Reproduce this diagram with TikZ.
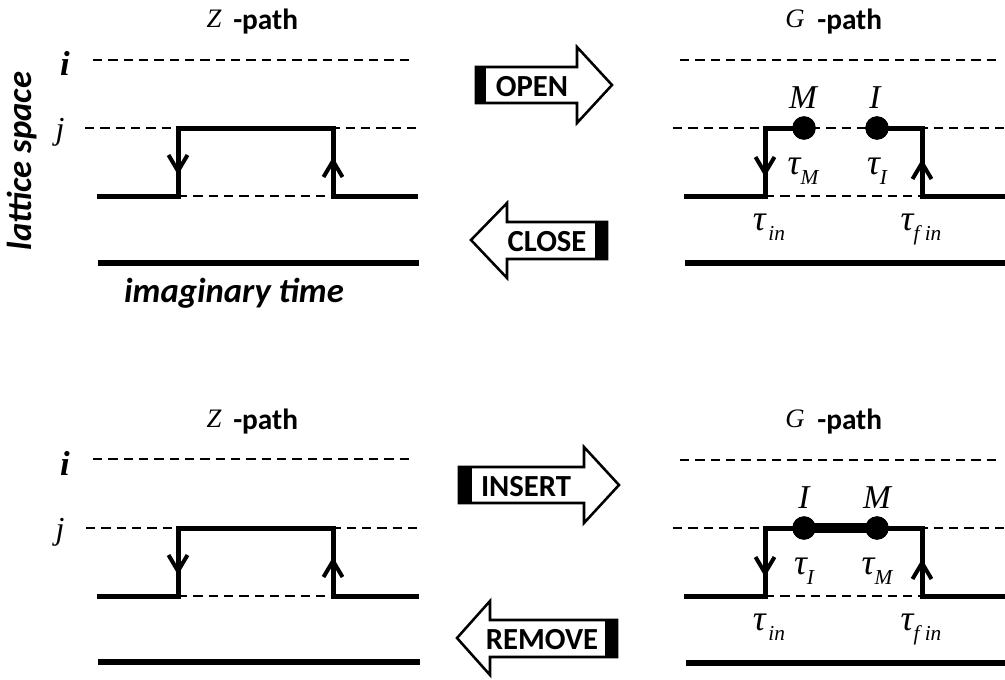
\documentclass[tikz,border=0pt]{standalone}
\usepackage{fontspec}
\setmainfont{Carlito}
\newfontfamily\tms{Liberation Serif}
\newcommand\mysub[1]{\raisebox{-7.5pt}{\fontsize{16}{16}\selectfont #1}}
\tikzset{
  pathline/.style={line width=3.75pt, line join=miter},
  groundline/.style={line width=4.5pt},
  lvl/.style={line width=1.2pt, dash pattern=on 7pt off 4.5pt},
  chev/.style={line width=3pt, line join=miter},
  blockarrow/.style={draw, line width=1.9pt, line join=miter, fill=white},
  tailbar/.style={fill=black},
  arrtext/.style={font=\fontsize{23}{23}\selectfont\bfseries, inner sep=0pt},
  pathtitle/.style={font=\fontsize{22}{22}\selectfont\bfseries, inner sep=0pt, anchor=base west},
  symtitle/.style={font=\fontsize{20}{20}\selectfont\tms\itshape, inner sep=0pt, anchor=base},
  sitelab/.style={font=\fontsize{24}{24}\selectfont\tms\itshape, inner sep=0pt},
  boldsite/.style={font=\fontsize{26}{26}\selectfont\tms\bfseries\itshape, inner sep=0pt},
  ptlab/.style={font=\fontsize{25}{25}\selectfont\tms\itshape, inner sep=0pt, anchor=base},
  taulab/.style={font=\fontsize{27}{27}\selectfont\tms\itshape, inner sep=0pt, anchor=base},
  axislab/.style={font=\fontsize{26}{26}\selectfont\bfseries\itshape, inner sep=0pt},
  dotnode/.style={circle, fill=black, minimum size=17.5pt, inner sep=0pt},
}
\begin{document}
\begin{tikzpicture}[x=0.75pt,y=-0.75pt]
\useasboundingbox (0,0) rectangle (1005,679);

% ================= TOP LEFT : Z-path =================
\node[symtitle] (zA) at (214,27) {Z};
\node[pathtitle] (zAp) at (233,29) {-path};
\node[boldsite] (iA) at (65,63) {i};
\node[sitelab] (jA) at (60,132) {j};
\draw[lvl] (93,60) -- (412,60);
\draw[lvl] (85,128) -- (418,128);
\draw[lvl] (178,196) -- (333,196);
\draw[pathline] (97,196) -- (178,196) -- (178,128) -- (333,128) -- (333,196) -- (418,196);
\draw[chev] (168.5,155) -- (178,171) -- (187.5,155);
\draw[chev] (323.5,177) -- (333,161) -- (342.5,177);
\draw[groundline] (98,263) -- (419,263);
\node[axislab, anchor=base] (tlab) at (234,302) {imaginary time};
\node[axislab, rotate=90] (slab) at (22,161) {lattice space};

% ================= TOP RIGHT : G-path =================
\node[symtitle] (gA) at (795,27) {G};
\node[pathtitle] (gAp) at (817,29) {-path};
\draw[lvl] (680,60) -- (1002,60);
\draw[lvl] (673,128) -- (1005,128);
\draw[lvl] (765,196) -- (922,196);
\node[dotnode] (mA) at (804,128) {};
\node[dotnode] (iDA) at (877,128) {};
\draw[pathline] (684,196) -- (765,196) -- (765,128) -- (mA.center);
\draw[pathline] (iDA.center) -- (922,128) -- (922,196) -- (1005,196);
\node[dotnode] at (mA) {};
\node[dotnode] at (iDA) {};
\draw[chev] (755.5,157) -- (765,173) -- (774.5,157);
\draw[chev] (912.5,179) -- (922,163) -- (931.5,179);
\draw[groundline] (685,263) -- (1005,263);
\node[ptlab] (mAl) at (803,108) {M};
\node[ptlab] (iAl) at (875,108) {I};
\node[taulab] (tmA) at (803,174) {τ\mysub{M}};
\node[taulab] (tiA) at (877,174) {τ\mysub{I}};
\node[taulab] (tinA) at (769,230) {τ\kern2pt\mysub{in}};
\node[taulab] (tfA) at (921,230) {τ\mysub{f in}};

% ================= OPEN / CLOSE =================
\draw[blockarrow] (476,67) -- (577,67) -- (577,47) -- (612,85) -- (577,123) -- (577,103) -- (476,103) -- cycle;
\fill[tailbar] (476,67) rectangle (486,103);
\node[arrtext] (open) at (532,87) {OPEN};
\draw[blockarrow] (607,222) -- (507,222) -- (507,203) -- (471,240) -- (507,278) -- (507,259) -- (607,259) -- cycle;
\fill[tailbar] (595,222) rectangle (607,259);
\node[arrtext] (close) at (547,242) {CLOSE};

% ================= BOTTOM LEFT : Z-path =================
\node[symtitle] (zB) at (214,427) {Z};
\node[pathtitle] (zBp) at (233,429) {-path};
\node[boldsite] (iB) at (65,463) {i};
\node[sitelab] (jB) at (60,532) {j};
\draw[lvl] (93,459) -- (412,459);
\draw[lvl] (86,528) -- (418,528);
\draw[lvl] (178,596) -- (333,596);
\draw[pathline] (97,596) -- (178,596) -- (178,528) -- (333,528) -- (333,596) -- (419,596);
\draw[chev] (168.5,555) -- (178,571) -- (187.5,555);
\draw[chev] (323.5,577) -- (333,561) -- (342.5,577);
\draw[groundline] (98,662) -- (420,662);

% ================= BOTTOM RIGHT : G-path =================
\node[symtitle] (gB) at (795,427) {G};
\node[pathtitle] (gBp) at (817,429) {-path};
\draw[lvl] (680,460) -- (1002,460);
\draw[lvl] (673,528) -- (1005,528);
\draw[lvl] (765,596) -- (922,596);
\node[dotnode] (iB2) at (804,528) {};
\node[dotnode] (mB) at (877,528) {};
\draw[pathline] (684,596) -- (765,596) -- (765,528) -- (922,528) -- (922,596) -- (1005,596);
\draw[line width=7.5pt] (iB2.center) -- (mB.center);
\node[dotnode] at (iB2) {};
\node[dotnode] at (mB) {};
\draw[chev] (755.5,557) -- (765,573) -- (774.5,557);
\draw[chev] (912.5,579) -- (922,563) -- (931.5,579);
\draw[groundline] (686,663) -- (1005,663);
\node[ptlab] (iBl) at (804,508) {I};
\node[ptlab] (mBl) at (877,508) {M};
\node[taulab] (tiB) at (804,574) {τ\mysub{I}};
\node[taulab] (tmB) at (877,574) {τ\mysub{M}};
\node[taulab] (tinB) at (769,630) {τ\kern2pt\mysub{in}};
\node[taulab] (tfB) at (921,630) {τ\mysub{f in}};

% ================= INSERT / REMOVE =================
\draw[blockarrow] (459,467) -- (584,467) -- (584,447) -- (619,485) -- (584,523) -- (584,503) -- (459,503) -- cycle;
\fill[tailbar] (459,467) rectangle (472,503);
\node[arrtext] (insert) at (526,487) {INSERT};
\draw[blockarrow] (617,620) -- (490,620) -- (490,601) -- (457,638) -- (490,675) -- (490,657) -- (617,657) -- cycle;
\fill[tailbar] (605,620) rectangle (617,657);
\node[arrtext] (remove) at (542,640) {REMOVE};
\end{tikzpicture}
\end{document}
